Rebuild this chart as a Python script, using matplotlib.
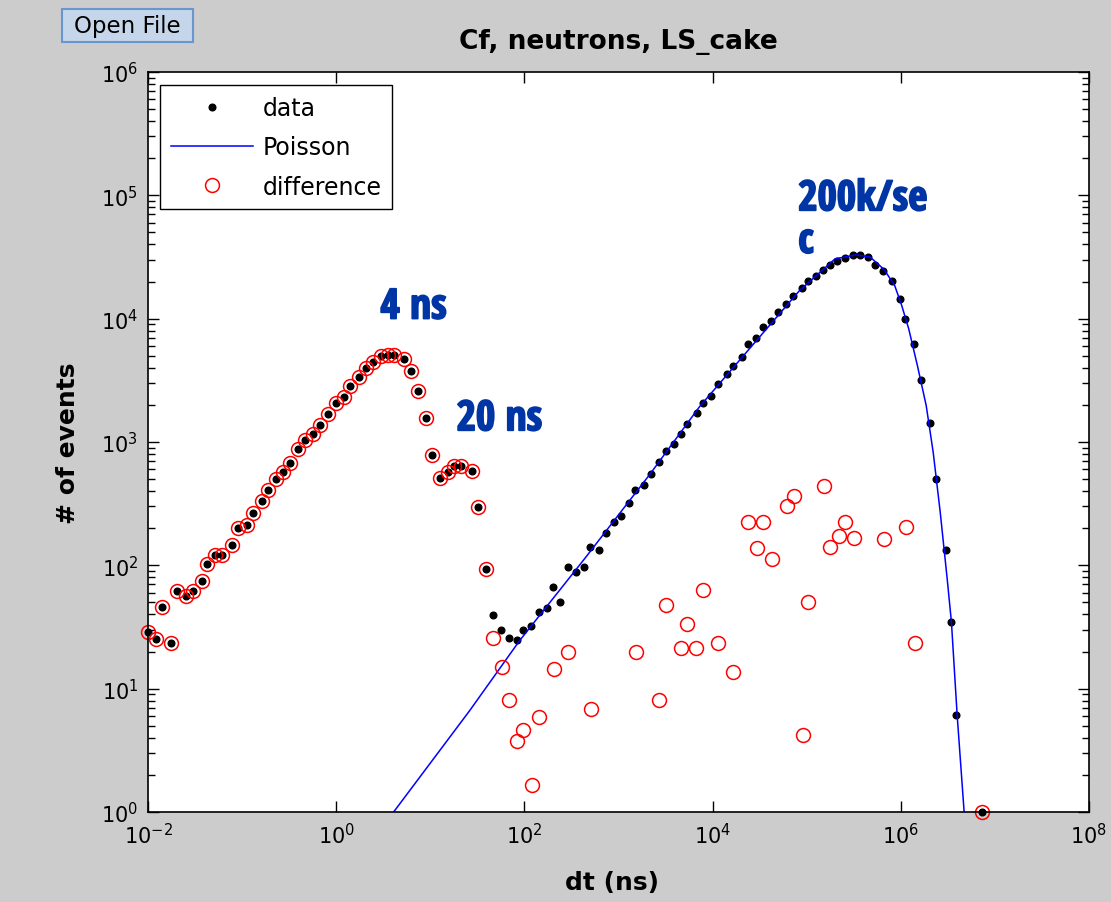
import matplotlib
matplotlib.use("Agg")
import matplotlib.pyplot as plt
from matplotlib import ticker, font_manager
from matplotlib import patheffects
from matplotlib.font_manager import FontProperties
from matplotlib.textpath import TextToPath
from matplotlib.patches import Rectangle

# black dots: log-binned time differences (ns) and counts
data_dt = [0.0100, 0.0122, 0.0142, 0.0175, 0.0205, 0.0253, 0.0298, 0.0372, 0.0426, 0.0514,
           0.0615, 0.0785, 0.0895, 0.112, 0.131, 0.161, 0.189, 0.232, 0.273, 0.321,
           0.395, 0.465, 0.569, 0.670, 0.820, 0.984, 1.21, 1.39, 1.74, 2.05,
           2.47, 3.03, 3.56, 4.12, 5.26, 6.30, 7.40, 9.09, 10.5, 12.8,
           15.4, 17.9, 21.4, 27.7, 32.1, 39.4, 46.3, 56.9, 67.9, 84.1,
           96.4, 118, 142, 173, 201, 237, 290, 350, 429, 496,
           614, 730, 906, 1074, 1309, 1511, 1875, 2224, 2710, 3215,
           3882, 4611, 5370, 6776, 7831, 9550, 11320, 14060, 16380, 20650,
           23880, 29110, 34510, 42070, 50000, 60260, 71610, 88720, 102800, 125000,
           148600, 176200, 209400, 254700, 307600, 365600, 451900, 537000, 653100, 803500,
           977200, 1.114e6, 1.377e6, 1.641e6, 2.028e6, 2.393e6, 3.013e6, 3.452e6, 3.900e6, 7.26e6]
data_counts = [28.7, 25.3, 45.7, 23.4, 61.7, 56.2, 61.7, 75.2, 103, 122,
               122, 145, 200, 213, 265, 335, 411, 502, 569, 673,
               879, 1040, 1164, 1376, 1690, 2075, 2308, 2866, 3354, 3968,
               4437, 4966, 5084, 5084, 4721, 3751, 2612, 1560, 786, 509,
               575, 644, 644, 586, 296, 93.5, 39.6, 29.9, 25.6, 24.8,
               29.9, 32.4, 41.6, 44.9, 67.2, 50.8, 96.5, 88.9, 96.5, 140,
               134, 183, 224, 253, 321, 411, 449, 551, 693, 851,
               965, 1164, 1402, 1722, 2075, 2378, 2960, 3566, 4120, 4874,
               6250, 6950, 8530, 9480, 11290, 13180, 15390, 17670, 20370, 22370,
               25000, 27320, 29600, 30970, 32500, 32500, 31550, 27320, 24550, 20370,
               14480, 9960, 6250, 3207, 1429, 502, 132, 34.6, 6.12, 1.0]

# blue Poisson expectation
poisson_dt = [4.08, 26.2, 88.9, 436, 2133, 7244, 24600, 83400, 200400, 335700,
              472400, 665000, 861000, 1.023e6, 1.214e6, 1.501e6, 1.862e6, 2.208e6, 2.623e6, 3.112e6,
              3.452e6, 3.97e6, 4.71e6]
poisson_counts = [1.0, 6.63, 24.5, 113, 541, 1926, 5690, 16800, 30550, 32900,
                  31550, 25000, 18550, 12770, 8265, 4165, 1973, 827, 270, 77.6,
                  34.6, 6.12, 1.0]

# red circles: data minus Poisson (left part equals the data)
diff_dt = data_dt[:46] + [46.3, 57.7, 67.9, 84.1, 96.4, 120, 142, 206, 294, 505,
                          1531, 2723, 3206, 4630, 5400, 6680, 7850, 11320, 16330, 23990,
                          29380, 34590, 42360, 61800, 73800, 90400, 104000, 153800, 176900, 218400,
                          257200, 315000, 667000, 1.133e6, 1.412e6, 7.26e6]
diff_counts = data_counts[:46] + [25.9, 14.9, 8.1, 3.74, 4.62, 1.67, 5.86, 14.3, 19.7, 6.85,
                                  19.7, 8.14, 48.0, 21.4, 33.5, 21.4, 63.5, 23.4, 13.7, 224,
                                  138, 224, 113, 305, 363, 4.24, 50.2, 443, 142, 174,
                                  224, 168, 162, 206, 23.4, 1.0]

x_ticks = [1e-2, 1e0, 1e2, 1e4, 1e6, 1e8]


def narrow_bold_font():
    # heavy, condensed latin face for the hand-written style labels
    ok = {"DejaVu Sans", "Liberation Sans", "Liberation Sans Narrow", "Noto Sans",
          "Roboto", "Roboto Condensed", "Open Sans", "Open Sans Condensed", "Lato", "Inter",
          "Noto Sans Display"}
    t2p = TextToPath()
    faces = []
    for f in font_manager.fontManager.ttflist:
        if f.name not in ok:
            continue
        w = f.weight if isinstance(f.weight, int) else font_manager.weight_dict.get(f.weight, 400)
        if w < 700 or "italic" in f.style or "oblique" in f.style:
            continue
        try:
            prop = FontProperties(fname=f.fname, size=10)
            width = t2p.get_text_width_height_descent("200k/se", prop, ismath=False)[0]
        except Exception:
            continue
        faces.append((f.fname, w, width * 3 * 100 / 72))  # px at 30 pt
    if not faces:
        return FontProperties(family="DejaVu Sans", weight="bold"), 30
    fitting = [x for x in faces if x[2] <= 142]
    if fitting:
        fname, _, px30 = max(fitting, key=lambda x: (x[1], -x[2]))
    else:
        fname, _, px30 = min(faces, key=lambda x: x[2])
    size = min(30, 30 * (133 / px30) ** 0.5)
    return FontProperties(fname=fname), size


fig = plt.figure(figsize=(11.11, 9.03), dpi=100, facecolor="#cccccc")
ax = fig.add_axes([0.1332, 0.0997, 0.847, 0.8195])

ax.plot(data_dt, data_counts, "o", color="k", ms=4.8, ls="none", label="data", clip_on=False)
ax.plot(poisson_dt, poisson_counts, "-", color="#0000ff", lw=1.1, label="Poisson")
ax.plot(diff_dt, diff_counts, "o", mfc="none", mec="#ff0000", mew=1.1, ms=10, ls="none",
        label="difference", clip_on=False)

ax.set_xscale("log")
ax.set_yscale("log")
ax.set_xlim(1e-2, 1e8)
ax.set_ylim(1, 1e6)
ax.set_xticks(x_ticks)
ax.xaxis.set_minor_locator(ticker.NullLocator())
ax.yaxis.set_major_locator(ticker.LogLocator(base=10, numticks=10))
ax.yaxis.set_minor_locator(ticker.LogLocator(base=10, subs=range(2, 10), numticks=20))
ax.yaxis.set_minor_formatter(ticker.NullFormatter())
ax.tick_params(which="both", direction="in", top=True, right=True, width=1)
ax.tick_params(which="major", length=8, labelsize=15, pad=7)
ax.tick_params(which="minor", length=5)
for s in ax.spines.values():
    s.set_linewidth(1.2)

ax.set_title("Cf, neutrons, LS_cake", fontsize=19, fontweight="bold", pad=17)
ax.set_xlabel("dt (ns)", fontsize=18, fontweight="bold")
ax.xaxis.set_label_coords(0.493, -0.078)
ax.set_ylabel("# of events", fontsize=18, fontweight="bold")
ax.yaxis.set_label_coords(-0.0723, 0.5)

leg = ax.legend(loc="upper left", bbox_to_anchor=(0.0127, 0.982), borderaxespad=0,
                fancybox=False, edgecolor="k", framealpha=1, fontsize=17, numpoints=1,
                handlelength=3.5, handletextpad=0.4, labelspacing=0.65, borderpad=0.45)
leg.get_frame().set_linewidth(1.0)

# condensed bold blue annotations
ann_prop, ann_size = narrow_bold_font()
ann_prop.set_size(ann_size)
blue = "#0035a5"
heavy = [patheffects.withStroke(linewidth=1.3, foreground=blue)]
ax.text(0.247, 0.681, "4 ns", transform=ax.transAxes, ha="left", va="center",
        color=blue, fontproperties=ann_prop, path_effects=heavy)
ax.text(0.328, 0.530, "20 ns", transform=ax.transAxes, ha="left", va="center",
        color=blue, fontproperties=ann_prop, path_effects=heavy)
ax.text(0.691, 0.855, "200k/se\nc", transform=ax.transAxes, ha="left", va="top",
        color=blue, linespacing=1.05, fontproperties=ann_prop, path_effects=heavy)

# the GUI button in the corner
fig.add_artist(Rectangle((0.0558, 0.9524), 0.1179, 0.0365, transform=fig.transFigure,
                         facecolor="#c6d6ea", edgecolor="#6a96d0", lw=1.5))
fig.text(0.1148, 0.9712, "Open File", ha="center", va="center", fontsize=16.5)

fig.savefig("out.png", dpi=100, facecolor=fig.get_facecolor())
